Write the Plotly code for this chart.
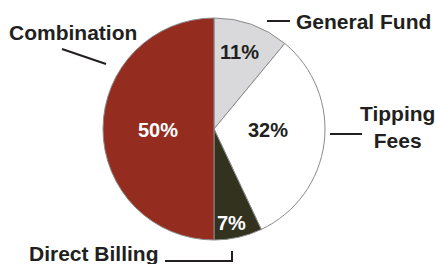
import plotly.graph_objects as go

labels = ["General Fund", "Tipping Fees", "Direct Billing", "Combination"]
values = [11, 32, 7, 50]
colors = ["#d9d9dc", "#ffffff", "#32321f", "#942d20"]
text_colors = ["#231f20", "#231f20", "#ffffff", "#ffffff"]

W, H = 438, 264
cx, cy, r = 214, 129, 111

fig = go.Figure(go.Pie(
    labels=labels, values=values, sort=False, direction="clockwise", rotation=0,
    marker=dict(colors=colors, line=dict(color="#8a8a8a", width=1)),
    textinfo="none",
    showlegend=False, hoverinfo="none",
    domain=dict(x=[(cx - r) / W, (cx + r) / W], y=[1 - (cy + r) / H, 1 - (cy - r) / H]),
))

def px(x):
    return x / W

def py(y):
    return 1 - y / H

# percentage label positions (pixels) for each slice
pct_pos = [(239, 52), (268, 130), (231, 223), (158, 130)]
pct_annots = [
    dict(x=px(x), y=py(y), text=f"{v}%", xanchor="center", yanchor="middle",
         font=dict(family="Liberation Sans", size=20, color=c, weight="bold"))
    for (x, y), v, c in zip(pct_pos, values, text_colors)
]

font = dict(family="Liberation Sans", size=21, color="#231f20", weight="bold")
lab_annots = [
    dict(x=px(7), y=py(32), text="Combination", xanchor="left", yanchor="middle", font=font),
    dict(x=px(294), y=py(21), text="General Fund", xanchor="left", yanchor="middle", font=font),
    dict(x=px(397), y=py(127), text="Tipping<br>Fees", xanchor="center", yanchor="middle", align="center", font=font),
    dict(x=px(27), y=py(253), text="Direct Billing", xanchor="left", yanchor="middle", font=font),
]
fig.update_layout(annotations=[dict(**a, xref="paper", yref="paper", showarrow=False)
                               for a in pct_annots + lab_annots])

lines = [
    (62, 49, 106, 64),
    (267, 21, 290, 21),
    (330, 134, 362, 134),
    (165, 261, 233, 261),
    (232, 262, 232, 251),
]
fig.update_layout(shapes=[dict(type="line", xref="paper", yref="paper", x0=px(a), y0=py(b), x1=px(c), y1=py(d),
                               line=dict(color="#231f20", width=2)) for a, b, c, d in lines])

fig.update_layout(width=W, height=H, margin=dict(l=0, r=0, t=0, b=0),
                  paper_bgcolor="white", plot_bgcolor="white")
fig.write_html("out.html", config={"displayModeBar": False},
               post_script="document.body.style.margin='0';document.body.style.padding='0';")
